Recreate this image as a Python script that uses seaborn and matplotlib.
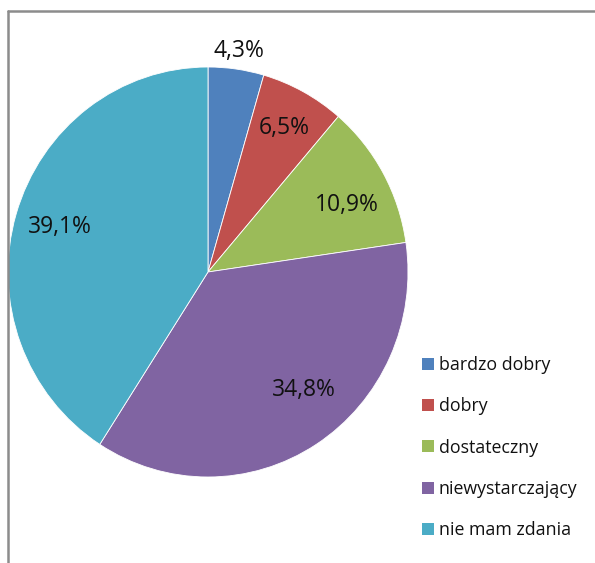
import matplotlib
matplotlib.use("Agg")
import matplotlib.pyplot as plt
import seaborn as sns
import numpy as np
from matplotlib.lines import Line2D

categories = ["bardzo dobry", "dobry", "dostateczny", "niewystarczający", "nie mam zdania"]
values = [4.3, 6.5, 10.9, 34.8, 39.1]
value_labels = ["4,3%", "6,5%", "10,9%", "34,8%", "39,1%"]
colors = ["#4F81BD", "#C0504D", "#9BBB59", "#8064A2", "#4BACC6"]
label_dist = [1.09, 0.80, 0.77, 0.75, 0.77]
label_angle_shift = [0, 0, -3.5, 7, 0]

sns.set_theme(style="white")
plt.rcParams["font.family"] = ["Open Sans", "DejaVu Sans"]

W, H = 595, 563
fig = plt.figure(figsize=(W / 100, H / 100), dpi=100)
fig.patch.set_facecolor("white")

# pie axes (pixel box x 8..408, y 67..477)
ax = fig.add_axes([8 / W, (H - 477) / H, 400 / W, 410 / H])
wedges, _ = ax.pie(values, colors=colors, startangle=90, counterclock=False,
                   wedgeprops=dict(edgecolor="white", linewidth=0.6))
ax.set_aspect("auto")
ax.set_xlim(-1, 1)
ax.set_ylim(-1, 1)
ax.axis("off")

for w, lab, d, s in zip(wedges, value_labels, label_dist, label_angle_shift):
    ang = np.deg2rad((w.theta1 + w.theta2) / 2 + s)
    ax.text(d * np.cos(ang), d * np.sin(ang), lab, ha="center", va="center",
            fontsize=16.5, color="#111111")

# frame lines (top and left)
fig.add_artist(Line2D([8 / W, 1], [1 - 11 / H, 1 - 11 / H], color="#8c8c8c", lw=1.8,
                      transform=fig.transFigure))
fig.add_artist(Line2D([8 / W, 8 / W], [0, 1 - 11 / H], color="#8c8c8c", lw=1.8,
                      transform=fig.transFigure))

handles = [plt.Rectangle((0, 0), 1, 1, facecolor=c, edgecolor="none") for c in colors]
fig.legend(handles, categories, loc="upper left",
           bbox_to_anchor=(422 / W, 1 - 356 / H), frameon=False,
           fontsize=12.8, handlelength=0.65, handleheight=0.65, handletextpad=0.3,
           labelspacing=1.31, borderpad=0, borderaxespad=0, labelcolor="#111111")

fig.savefig("out.png", dpi=100)
